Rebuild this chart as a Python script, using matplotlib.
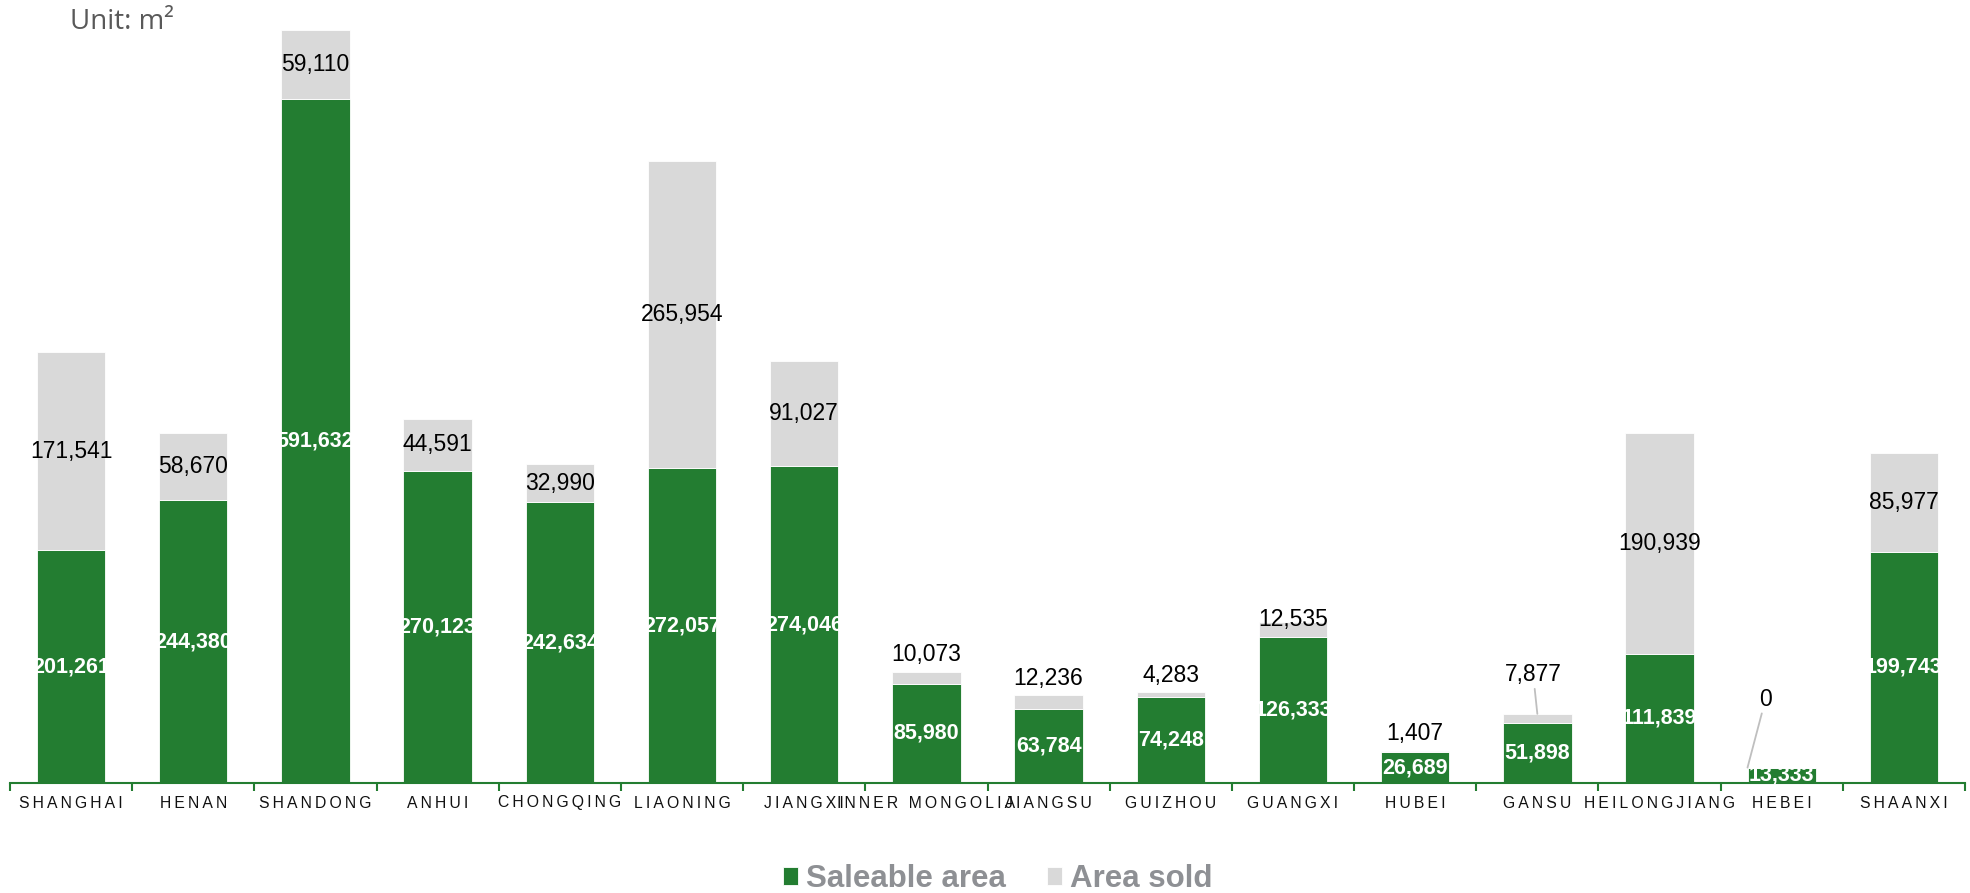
import matplotlib.pyplot as plt
import numpy as np

plt.rcParams['font.family'] = ['Liberation Sans', 'DejaVu Sans']

# data (m2)
provinces = ['SHANGHAI', 'HENAN', 'SHANDONG', 'ANHUI', 'CHONGQING', 'LIAONING',
             'JIANGXI', 'INNER MONGOLIA', 'JIANGSU', 'GUIZHOU', 'GUANGXI', 'HUBEI',
             'GANSU', 'HEILONGJIANG', 'HEBEI', 'SHAANXI']
saleable = [201261, 244380, 591632, 270123, 242634, 272057, 274046, 85980,
            63784, 74248, 126333, 26689, 51898, 111839, 13333, 199743]
sold = [171541, 58670, 59110, 44591, 32990, 265954, 91027, 10073,
        12236, 4283, 12535, 1407, 7877, 190939, 0, 85977]

green = '#237d31'
grey = '#d9d9d9'

fig = plt.figure(figsize=(19.7, 8.93), dpi=100)
ax = fig.add_axes([10 / 1970, 1 - 783 / 893, 1955 / 1970, 783 / 893])

x = np.arange(len(provinces))
w = 0.56
b1 = ax.bar(x, saleable, w, color=green, edgecolor='white', linewidth=0.6)
b2 = ax.bar(x, sold, w, bottom=saleable, color=grey, edgecolor='white', linewidth=0.6)

ax.set_xlim(-0.5, len(provinces) - 0.5)
ax.set_ylim(0, 677000)

# labels in the green part
for xi, s in zip(x, saleable):
    ax.text(xi, s / 2, f'{s:,}', ha='center', va='center', color='white',
            fontsize=15.5, fontweight='bold')

# labels for area sold: centered in grey part, or above it when too thin
line_style = dict(arrowstyle='-', color='#bfbfbf', lw=1.3, shrinkA=0, shrinkB=0)
for xi, s, v in zip(x, saleable, sold):
    top = s + v
    if v > 30000:
        ax.text(xi, s + v / 2, f'{v:,}', ha='center', va='center',
                color='black', fontsize=16.5)
    elif provinces[xi] == 'GANSU':
        ax.annotate(f'{v:,}', xy=(xi, top), xytext=(-3, 20), textcoords='offset points',
                    ha='center', va='bottom', fontsize=16.5, arrowprops=line_style)
    elif provinces[xi] == 'HEBEI':
        ax.annotate(f'{v:,}', xy=(xi - w / 2, top), xytext=(13, 41),
                    textcoords='offset points', ha='center', va='bottom',
                    fontsize=16.5, arrowprops=line_style)
    elif provinces[xi] == 'GUANGXI':
        ax.annotate(f'{v:,}', xy=(xi, top), xytext=(0, -6), textcoords='offset points',
                    ha='center', va='bottom', fontsize=16.5)
    else:
        ax.annotate(f'{v:,}', xy=(xi, top), xytext=(0, 4), textcoords='offset points',
                    ha='center', va='bottom', fontsize=16.5)

# axis styling
for sp in ['top', 'right', 'left']:
    ax.spines[sp].set_visible(False)
ax.spines['bottom'].set_color(green)
ax.spines['bottom'].set_linewidth(1.5)
ax.set_yticks([])
ax.set_xticks(np.arange(-0.5, len(provinces)), minor=False)
ax.set_xticklabels([])
ax.tick_params(axis='x', which='major', color=green, length=6, width=1.5, direction='out')
ax.set_xticks(x, minor=True)
spaced = ['\u2009'.join(p) for p in provinces]
ax.set_xticklabels(spaced, minor=True, fontsize=11.3, color='#111111')
ax.tick_params(axis='x', which='minor', length=0, pad=9)

fig.text(70 / 1970, 1 - 22 / 893, 'Unit: m\u00b2', fontsize=20, color='#595959',
         ha='left', va='center', family=['Open Sans', 'DejaVu Sans'])

leg = fig.legend([b1, b2], ['Saleable area', 'Area sold'], loc='center',
                 bbox_to_anchor=(0.5065, 1 - 879 / 893), ncol=2, frameon=False,
                 prop={'size': 22.5, 'weight': 'bold'}, handlelength=0.5,
                 handleheight=0.5, handletextpad=0.25, columnspacing=1.3)
for t in leg.get_texts():
    t.set_color('#8e9094')

fig.savefig('out.png', dpi=100)
